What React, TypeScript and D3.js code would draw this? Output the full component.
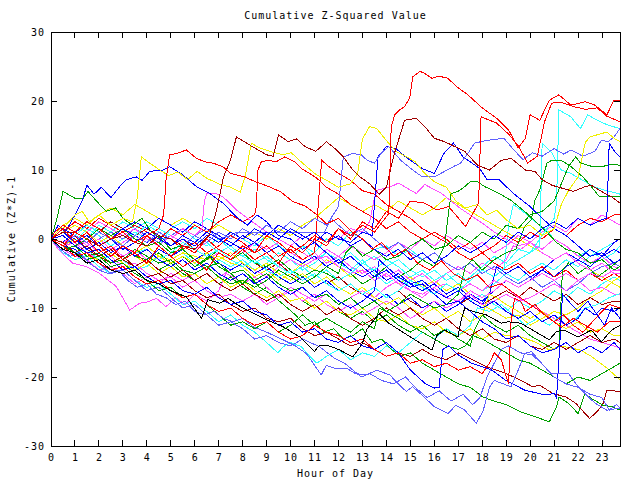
import React from "react";
import * as d3 from "d3";

type P = [number, number];

const title = "Cumulative Z-Squared Value";
const xLabel = "Hour of Day";
const yLabel = "Cumulative (Z*Z)-1";
const xTicks = d3.range(0, 24);
const yTicks = [-30, -20, -10, 0, 10, 20, 30];
const xDomain: [number, number] = [0, 23.75];
const yDomain: [number, number] = [-30, 30];

const palette = {
  red: "#ff0000",
  green: "#00a000",
  blue: "#0000ff",
  magenta: "#ff50ff",
  cyan: "#30ffff",
  darkred: "#a00000",
  yellow: "#f0f000",
  black: "#000000",
  lightblue: "#6060ff",
};

const s01: P[] = [[0,0],[0.5,1.5],[1,-0.5],[1.5,1],[2,-1],[2.5,-2.5],[3,-1],[3.5,-2],[4,0.5],[4.5,-1],[5,-2.5],[5.5,-1],[6,-2],[6.5,0],[7,-1.5],[7.5,-2.5],[8,-1],[8.5,-2],[9,0.5],[9.5,-0.5],[10,-2],[10.5,-1],[11,0.5],[11.5,-0.5],[12,1.5],[12.5,0.5],[13,2],[13.5,1],[14.1,3.7],[14.2,16.3],[14.35,18],[14.55,18.7],[14.76,19.2],[14.97,20.4],[15.1,23.5],[15.4,24.3],[15.6,24],[15.9,23.3],[16.2,23.6],[16.55,23.3],[17,21.9],[17.4,20.9],[18,19],[18.6,17.5],[19.1,15.8],[19.5,13.2],[19.8,14.6],[20,18],[20.4,17.2],[20.8,20.1],[21.2,20.9],[21.7,19.4],[22.3,19.9],[22.7,19.4],[23.2,18],[23.5,20.1],[23.75,20.1]];
const s02: P[] = [[0,0],[0.5,-1],[1,1],[1.5,0],[2,-2],[2.5,-1],[3,-3],[3.5,-2],[4,-3.5],[4.5,-1],[5,-2.5],[5.5,-4],[6,-3],[6.5,-4.5],[7,-2],[7.5,-3],[8,-1.5],[8.5,-3],[9,-2],[9.5,-3.5],[10,-1],[10.5,-2],[11,0],[11.5,-1],[12,1.5],[12.5,0],[13,2.5],[13.5,1.5],[14,4],[14.5,3],[15,5.5],[15.6,5.2],[16.1,4.2],[16.6,4.7],[17.3,1.8],[17.85,5.2],[17.95,17.7],[18.6,16.8],[19.1,15.2],[19.5,13.5],[19.9,11],[20.3,12],[20.6,17],[20.9,19.7],[21.3,19.8],[21.8,19.2],[22.3,18.8],[22.8,19],[23.2,17.8],[23.75,17]];
const s03: P[] = [[0,0],[0.5,1],[1,1],[1.5,0],[2,-1],[2.5,0],[3,0.5],[3.5,-0.5],[4,-1],[4.5,0.5],[5,0],[5.5,-1],[6,-1.5],[6.6,0.5],[6.9,4],[7.2,9],[7.5,11.5],[7.74,14.8],[8.4,13.4],[9,12.2],[9.27,12],[9.5,15.1],[9.9,14.1],[10.25,14.5],[10.6,13.4],[11.05,12.7],[11.5,14.1],[11.85,13.1],[12.2,11.9],[12.6,10],[12.9,9],[13.3,8],[13.7,6.5],[14,7.5],[14.3,12],[14.76,17.2],[15.25,17.5],[15.6,16.3],[16,14.6],[16.43,14.1],[16.85,13.4],[17.27,12.7],[17.8,10.7],[18.3,10],[18.8,11.4],[19.2,11.7],[19.8,10],[20.2,9.8],[20.5,8.6],[20.9,7.8],[21.4,7.3],[21.8,6.9],[22.3,7.6],[22.55,7.8],[22.97,6.9],[23.4,6.1],[23.75,5.2]];
const s04: P[] = [[0,0.5],[0.5,2],[1,1],[1.5,2.5],[2,1.5],[2.5,0],[3,1],[3.5,-0.5],[4,0.5],[4.5,1.5],[4.7,3.5],[4.8,8.5],[4.95,12.2],[5.25,12.4],[5.65,12.9],[6.07,11.7],[6.4,11.2],[6.76,11],[7.17,10.5],[7.5,9.5],[8.08,9],[8.6,8.2],[9.1,7.6],[9.6,6.8],[10.1,5.4],[10.6,4.8],[11.1,3.5],[11.5,2.2],[12,3],[12.5,1.2],[13,0],[13.4,-1.5],[13.8,-0.5],[14.3,-2.5],[14.8,-1.5],[15.3,-3.5],[15.8,-4.5],[16.3,-3.2],[16.8,-5],[17.3,-6],[17.8,-5.2],[18.3,-7],[18.8,-6.5],[19.3,-7.8],[19.8,-9],[20.3,-10.2],[20.8,-11.5],[21.3,-12.8],[21.8,-11.5],[22.3,-12.5],[22.8,-13.5],[23.3,-12],[23.75,-12]];
const s05: P[] = [[0,0],[0.5,1.5],[1,3.5],[1.3,4],[1.6,2.5],[2,3.5],[2.5,2],[3,3],[3.4,2.5],[3.6,6],[3.77,11.9],[4.12,11],[4.54,10],[4.9,9.2],[5.3,9.7],[5.7,8.6],[6.1,9.8],[6.5,8.8],[7,8],[7.5,7.5],[7.9,6.8],[8.1,9],[8.36,13.9],[8.7,13.2],[9.13,12.7],[9.68,12.2],[10.03,12.5],[10.5,11],[11,9.5],[11.5,8.5],[12,7.5],[12.5,8],[12.8,9.5],[13,14.5],[13.3,16.3],[13.6,16],[13.99,14.3],[14.4,12.7],[14.8,12],[15.2,11.2],[15.6,9.5],[16,8.3],[16.5,7.5],[16.9,5.5],[17.3,4.5],[17.8,5],[18.2,3.5],[18.6,4.2],[19,2.8],[19.5,1.5],[20,2],[20.5,0.5],[21,1.5],[21.3,5],[21.6,7],[22,9],[22.3,14],[22.5,14.8],[23.2,15.5],[23.5,14.6],[23.75,14.1]];
const s06: P[] = [[0,0],[0.3,2],[0.6,1],[1,3.5],[1.3,5.5],[1.5,7.8],[1.8,6.5],[2.1,7.5],[2.5,6],[2.87,7.6],[3.15,8.6],[3.56,9],[3.8,8.5],[4.12,9.8],[4.67,10],[4.95,10.5],[5.5,9.3],[6.07,7.6],[6.62,6.6],[7.18,5.2],[7.74,3.2],[8.2,2],[8.6,3.5],[9,2.5],[9.5,0.5],[10,0],[10.5,-1.5],[11,-0.5],[11.5,-2],[12,-3.5],[12.5,-2.5],[13,-4],[13.5,-5.5],[14,-4.5],[14.5,-6],[15,-7],[15.5,-6.5],[16,-8],[16.5,-9.5],[17,-9],[17.5,-10.5],[18,-12],[18.5,-13],[19,-14.5],[19.5,-14],[20,-15.5],[20.5,-16.5],[21,-16],[21.5,-15],[22,-16.5],[22.5,-15.5],[23,-16.5],[23.5,-15],[23.75,-16]];
const s07: P[] = [[0,0],[0.25,3],[0.5,6.9],[1,5.9],[1.34,5.9],[1.54,6.9],[1.9,5.5],[2.3,4],[2.7,4.5],[3,3],[3.4,2],[3.8,3],[4.2,1],[4.6,0],[5,-1.5],[5.4,-1],[5.8,-2.5],[6.2,-3.5],[6.6,-2.5],[7,-4],[7.5,-5],[8,-6.5],[8.3,-5.5],[8.7,-7],[9.2,-8],[9.7,-9.5],[10.2,-11],[10.6,-12.5],[11,-12],[11.4,-13.5],[11.8,-13],[12.2,-14.5],[12.6,-14],[13,-13],[13.4,-15],[13.8,-14.5],[14.2,-16],[14.6,-17],[15,-16.5],[15.5,-18],[16,-19],[16.5,-20],[17,-21],[17.5,-21.5],[18.03,-22.9],[18.5,-23.5],[19,-24],[19.56,-25],[20,-25.5],[20.4,-26],[20.8,-26.5],[21.1,-24.3],[21.2,-22.9],[21.6,-23.8],[22,-25.3],[22.28,-22.4],[22.6,-23.2],[23.04,-24.1],[23.4,-24.3],[23.75,-24.8]];
const s08: P[] = [[0,0],[0.4,-1.5],[0.8,-2.5],[1.2,-2],[1.6,-3.5],[2,-4.5],[2.4,-5],[2.8,-4.5],[3.2,-6],[3.6,-7],[4,-6.5],[4.4,-8],[4.8,-8.5],[5.2,-9.5],[5.6,-9],[6,-10.5],[6.4,-11],[6.8,-10.5],[7.2,-11.5],[7.6,-12],[8,-11.5],[8.43,-12.7],[9,-13.5],[9.68,-14.6],[10.2,-15.5],[10.66,-16.6],[11.28,-19.7],[11.49,-18.3],[11.9,-18.8],[12.33,-18.7],[12.7,-19.5],[13.16,-19.7],[13.6,-19],[14.14,-19.7],[14.5,-21],[14.83,-22.1],[15.1,-21.4],[15.6,-23],[16,-24.3],[16.57,-25.3],[16.9,-24.1],[17.27,-24.8],[17.75,-26.7],[18.03,-25],[18.3,-21.5],[18.5,-20.5],[18.8,-20.9],[19.2,-21.4],[19.5,-19],[19.77,-16.6],[20.05,-16.3],[20.6,-18.5],[20.9,-19.5],[21.6,-19.5],[22,-21.4],[22.55,-23.3],[22.8,-24],[23.2,-24.8],[23.75,-24.5]];
const s09: P[] = [[0,0],[0.5,-1.5],[1,-1],[1.5,-2.5],[2,-3],[2.5,-2],[3,-3.5],[3.5,-4.5],[4,-3.5],[4.5,-5],[5,-4],[5.5,-5.5],[6,-5],[6.5,-6.5],[7,-5.5],[7.5,-7],[8,-6],[8.5,-7.5],[9,-8.5],[9.5,-7.5],[10,-9],[10.5,-8.5],[11,-10],[11.5,-9],[12,-10.5],[12.5,-11],[13,-10],[13.5,-11.5],[14,-12],[14.5,-11],[15,-12.5],[15.5,-13],[16,-12],[16.5,-13.5],[17,-14],[17.5,-13],[18,-14.5],[18.5,-13.5],[19,-14],[19.6,-14.2],[20.2,-14.9],[20.8,-16.1],[21.3,-15.5],[22.1,-16.1],[22.55,-17],[23.2,-18.7],[23.75,-20.4]];
const s10: P[] = [[0,0],[0.5,-1],[1,0.5],[1.5,-1.5],[2,-2.5],[2.5,-1.5],[3,-3],[3.5,-4],[4,-5.5],[4.5,-5],[5,-6.5],[5.5,-6],[6,-7.5],[6.5,-8.5],[7,-8],[7.5,-9.5],[8,-10.5],[8.5,-10],[9,-11.5],[9.5,-12],[10,-11.5],[10.5,-13],[11,-14],[11.5,-13.5],[12,-14.5],[12.5,-15.5],[13,-15],[13.5,-16],[14,-15],[14.5,-16.5],[15,-17],[15.5,-16],[16,-17],[16.5,-17.5],[17,-16.5],[17.6,-17.5],[18.17,-18.5],[19,-19.5],[19.56,-20.4],[20.1,-21.4],[20.4,-21.2],[20.95,-22.4],[21.5,-22.9],[21.9,-23.8],[22.48,-26],[22.8,-25],[23.05,-23.8],[23.2,-21.9],[23.75,-22.1]];
const s11: P[] = [[0,0],[0.5,0.5],[1,-1],[1.5,-2],[2,-1.5],[2.5,-3],[3,-4.5],[3.5,-4],[4,-5.5],[4.5,-6.5],[5,-6],[5.5,-7.5],[6,-8],[6.5,-7],[7,-8.5],[7.5,-9.5],[8,-9],[8.5,-10.5],[9,-11],[9.5,-12.5],[10,-12],[10.5,-13.5],[11,-13],[11.5,-14.5],[12,-15],[12.5,-14],[13,-15.5],[13.5,-16],[14,-15],[14.5,-16.5],[15,-19],[15.6,-20.9],[16,-21.6],[16.2,-21.5],[16.35,-16],[16.6,-15.5],[17,-16.8],[17.55,-18],[18.4,-19],[18.94,-20.4],[19.77,-21.9],[20.6,-22.6],[21,-22.4],[21.1,-23],[21.2,-17.5],[21.35,-8],[21.6,-9],[22,-10.5],[22.4,-9],[22.8,-11],[23.1,-12.5],[23.4,-10],[23.75,-11.5]];
const s12: P[] = [[0,0],[0.5,-1],[1,0.5],[1.5,-1.5],[2,-0.5],[2.5,-2],[3,-1],[3.5,-2.5],[4,-3],[4.5,-2],[5,-3.5],[5.5,-2.5],[6,-4],[6.5,-3],[7,-1.5],[7.5,-3],[8,-2],[8.5,-3.5],[9,-4],[9.5,-3],[10,-4.5],[10.5,-5.5],[11,-4.5],[11.5,-5],[12,-6],[12.5,-5],[13,-6.5],[13.5,-5.5],[14,-4],[14.5,-5.5],[15,-4.5],[15.5,-3],[16,-4],[16.43,-1],[16.57,3.2],[16.7,6.6],[16.99,6.9],[17.27,7.6],[17.5,8.3],[17.8,8.3],[18.1,7.6],[18.4,7.1],[18.7,6.6],[19.2,5.6],[19.77,4],[20.3,2.3],[20.7,1],[21.1,-0.5],[21.5,-1.5],[22,-2],[22.5,-3.5],[23,-3],[23.5,-4.5],[23.75,-4]];
const s13: P[] = [[0,0],[0.5,0.5],[1,-1],[1.5,0],[2,1.5],[2.5,0.5],[3,1.5],[3.5,0],[4,-1],[4.5,-0.5],[5,-2],[5.5,-1.5],[6,-3],[6.5,-4],[7,-3.5],[7.5,-5],[8,-4.5],[8.5,-6],[9,-5],[9.5,-6.5],[10,-7.5],[10.5,-7],[11,-8.5],[11.5,-8],[12,-9.5],[12.5,-8.5],[13,-10],[13.5,-9],[14,-10.5],[14.5,-9.5],[15,-8],[15.5,-9],[16,-10],[16.5,-9.5],[17,-8],[17.3,-4],[17.6,-3],[18,-4.5],[18.5,-3],[19,-2],[19.4,-1.5],[19.77,1.8],[20.05,2.8],[20.2,5.6],[20.4,7.1],[20.7,11],[20.9,11.4],[21.3,11.4],[21.7,10.5],[22.2,9],[22.55,7.6],[22.9,6.1],[23.4,6.1],[23.75,6.1]];
const s14: P[] = [[0,0],[0.5,-1.5],[1,-1],[1.5,-2.5],[2,-2],[2.5,-3.5],[3,-3],[3.5,-1.5],[4,-2.5],[4.5,-3.5],[5,-3],[5.5,-4.5],[6,-5],[6.5,-4],[7,-5.5],[7.5,-6.5],[8,-6],[8.5,-7],[9,-6],[9.5,-4.5],[10,-5.5],[10.5,-6.5],[11,-5.5],[11.5,-4],[12,-5],[12.3,-2],[12.6,-1],[13,-2.5],[13.5,-1.5],[14,-3],[14.5,-2.5],[15,-1],[15.5,0],[16,-1.5],[16.5,-1],[17,0.5],[17.5,-0.5],[18,1],[18.5,0],[19,2],[19.5,1.5],[20,3.5],[20.5,4],[21,5.5],[21.3,8],[21.6,10.5],[21.9,11.9],[22.1,11],[22.6,10.5],[23,10.5],[23.4,10.8],[23.75,10.7]];
const s15: P[] = [[0,0],[0.5,1],[1,-0.5],[1.5,0.5],[2,-1],[2.5,0],[3,-1.5],[3.5,-0.5],[4,1],[4.5,0],[5,-1],[5.5,0.5],[6,-0.5],[6.5,1],[7,0],[7.5,-1],[8,0.5],[8.5,-0.5],[9,1],[9.5,0],[10,1.5],[10.5,0.5],[11,-0.5],[11.5,1],[12,0],[12.5,-0.5],[13,1],[13.4,0.5],[13.5,5],[13.65,11.9],[14,13.4],[14.4,13.1],[14.8,11.9],[15.5,10.2],[16,9.5],[16.4,12.4],[16.8,13.9],[17.2,11.9],[17.9,10.2],[18.2,8.6],[18.7,8.6],[19.3,6.6],[20,4.7],[20.5,3],[21,1.5],[21.5,0.5],[22,-1],[22.5,-2.5],[23,-2],[23.5,-3.5],[23.75,-3]];
const s16: P[] = [[0,0],[0.5,-1.5],[1,-2],[1.5,-3.5],[2,-3],[2.5,-4.5],[3,-5],[3.5,-4.5],[4,-6],[4.5,-6.5],[5,-7.5],[5.65,-8.4],[6.28,-11.5],[6.55,-8.8],[7.04,-9.3],[7.39,-8.6],[8,-10],[8.99,-11.7],[9.68,-12.7],[10.38,-14.2],[11,-16.3],[11.2,-15.4],[11.6,-15.5],[12,-16],[12.6,-17.1],[13,-15.1],[13.2,-13],[13.7,-10.8],[14.1,-12.2],[15,-14.2],[15.9,-16.1],[16.1,-14],[16.43,-13.2],[16.99,-14.2],[17.1,-12],[17.27,-10],[17.6,-10.5],[18.17,-11],[18.8,-12.2],[19.08,-12],[19.6,-12.2],[20.2,-13.4],[20.8,-14.6],[21.1,-13.4],[21.4,-13.2],[22,-14.2],[22.55,-13.2],[22.97,-14.9],[23.4,-13.2],[23.75,-12.5]];
const s17: P[] = [[0,0],[0.5,-1],[1,-2.5],[1.5,-2],[2,-3.5],[2.5,-5],[3,-4.5],[3.5,-6],[4,-7.5],[4.5,-7],[5,-8.5],[5.5,-10],[6,-9.5],[6.5,-11],[7,-12.5],[7.5,-12],[8,-13],[8.5,-14.5],[9,-14],[9.5,-15],[10,-15.5],[10.5,-14.5],[11.2,-15.6],[11.84,-17.3],[12.26,-18],[12.95,-20],[13.3,-19.5],[13.8,-20.5],[14.3,-21],[14.8,-20],[15.2,-21.5],[15.7,-23],[16.2,-22],[16.7,-23.5],[17.2,-22.5],[17.6,-24],[17.9,-23],[18.2,-20],[18.5,-18],[18.8,-16],[19.1,-15.5],[19.6,-16.5],[20.1,-16.8],[20.6,-18.5],[21,-20],[21.5,-21],[22,-21.5],[22.5,-22.5],[23,-23],[23.3,-24.8],[23.6,-24],[23.75,-24.5]];
const s18: P[] = [[0,0],[0.5,-1],[1,0.5],[1.5,-0.5],[2,1],[2.5,0],[3,-1],[3.5,0.5],[4,-0.5],[4.5,1],[5,0],[5.5,-1],[6,0.5],[6.5,-0.5],[7,1],[7.5,0],[8,1.5],[8.5,0.5],[9,2],[9.5,1],[10,2.5],[10.5,1.5],[11,3],[11.5,2],[12,4.7],[12.2,11.9],[12.6,12.4],[12.95,12.2],[13.2,11.4],[13.5,11],[13.8,12.5],[14.1,13.4],[14.6,11.4],[15.1,10],[15.5,9],[16,9],[16.43,9.8],[16.8,10.5],[17.1,11],[17.4,12.4],[17.68,13.9],[18.2,14.3],[18.9,14.6],[19.3,13],[19.7,11.5],[20.1,12.5],[20.5,12],[21,13.1],[21.4,12.3],[21.7,12.9],[22.2,12],[22.7,12.7],[22.97,14.3],[23.25,14.1],[23.5,14.8],[23.75,16]];
const s19: P[] = [[0,0],[0.5,1.5],[1,0.5],[1.5,2],[2,1],[2.5,0],[3,1.5],[3.5,0.5],[4,2],[4.5,1],[5,0],[5.5,-1],[6,0.5],[6.5,-0.5],[7,-2],[7.5,-1],[8,-2.5],[8.5,-3.5],[9,-2.5],[9.5,-4],[10,-5],[10.5,-4],[11,-5.5],[11.5,-4.5],[12,-6],[12.5,-5],[13,-3.5],[13.5,-4.5],[14,-3],[14.5,-4],[15,-5.5],[15.5,-4.5],[16,-6],[16.5,-5],[17,-6.5],[17.5,-5.5],[18,-4],[18.5,-2.5],[19,-3.5],[19.5,-1.5],[20,-2],[20.5,0.5],[21,3],[21.1,5.2],[21.2,18.7],[21.7,17.7],[22.1,16],[22.4,18],[22.8,17.2],[23.25,16.5],[23.75,16]];
const s20: P[] = [[0,0],[0.5,-1],[1,-2],[1.5,-1.5],[2,-3],[2.5,-2.5],[3,-1],[3.5,-2],[4,-1.5],[4.5,-3],[5,-2],[5.5,-0.5],[6,-1.5],[6.5,-2.5],[7,-1.5],[7.5,-3],[8,-4],[8.5,-3],[9,-4.5],[9.5,-5.5],[10,-4.5],[10.5,-6],[11,-5],[11.5,-6.5],[12,-7.5],[12.5,-6.5],[13,-8],[13.5,-7],[14,-8.5],[14.5,-7.5],[15,-6],[15.5,-7],[16,-8],[16.5,-6.5],[17,-7.5],[17.5,-6],[18,-4.5],[18.5,-5.5],[19,-4],[19.5,-3],[20,-2],[20.4,-1],[20.5,13.9],[20.9,12.5],[21.3,10],[21.7,9.5],[22.2,8.5],[22.7,7.5],[23.2,7],[23.75,6.5]];
const s21: P[] = [[0,0],[0.5,-1.5],[1,-1],[1.5,-2.5],[2,-2],[2.5,-3.5],[3,-3],[3.5,-4.5],[4,-4],[4.5,-2.5],[5,-3],[5.5,-2],[6,-3.5],[6.5,-4.5],[7,-3],[7.5,-4],[8,-3],[8.5,-4.5],[9,-3.5],[9.5,-2],[10,-3],[10.5,-1],[11,-2],[11.5,0],[12,-1],[12.5,1],[13,0],[13.5,-1.5],[14,-1],[14.5,-2.5],[15,-1.5],[15.5,-3],[16,-2],[16.5,-3.5],[17,-4.5],[17.5,-3.5],[18,-5],[18.5,-4],[18.9,-4.5],[19.1,2],[19.3,5],[19.7,4],[20.2,2.5],[20.6,1.5],[21,0],[21.5,-1],[22,-2.5],[22.5,-1.5],[23,-3],[23.5,-2],[23.75,-1]];
const s22: P[] = [[0,0],[0.5,-2],[1,-3],[1.5,-2.5],[2,-4],[2.5,-5],[3,-4.5],[3.5,-6],[4,-7],[4.5,-6.5],[5,-8],[5.5,-9.5],[6,-9],[6.5,-10.5],[7,-12],[7.5,-11],[8,-12.5],[8.5,-13.5],[9,-15],[9.47,-16.5],[9.7,-15.6],[10,-15],[10.45,-15.6],[10.8,-17],[11.1,-18],[11.5,-17],[12,-16],[12.5,-17.5],[13,-16.5],[13.5,-17],[14,-15.5],[14.5,-16.5],[15,-15],[15.5,-13.5],[16,-14.5],[16.5,-13],[17,-14],[17.5,-12.5],[17.8,-10],[18.3,-10.5],[18.8,-9.5],[19.3,-11],[19.8,-12.5],[20.3,-11.5],[20.8,-12.5],[21.3,-11],[21.8,-12],[22.3,-10],[22.8,-9.5],[23.3,-8.5],[23.75,-7.9]];
const s23: P[] = [[0,0],[0.5,1],[1,-0.5],[1.5,1.5],[2,0.5],[2.5,-1],[3,0],[3.5,1],[4,0],[4.5,-1],[5,1.5],[5.5,2.5],[6,1.5],[6.5,3],[7,2],[7.5,1],[8,0],[8.5,-1],[9,0.5],[9.5,-1],[10,-2],[10.5,-1],[11,-3],[11.5,-2],[12,-3.5],[12.5,-4.5],[13,-3],[13.5,-5],[14,-6.5],[14.5,-5.5],[15,-7],[15.5,-6],[16,-7.5],[16.5,-8.5],[17,-7.5],[17.5,-9],[18,-8],[18.5,-9.5],[19,-10.5],[19.5,-9],[20,-10],[20.5,-9],[21,-7.5],[21.5,-8.5],[22,-7],[22.5,-8],[23,-6.5],[23.5,-5.5],[23.75,-6]];
const s24: P[] = [[0,0],[0.5,-0.5],[1,1],[1.5,0],[2,2],[2.5,1],[3,2.5],[3.5,1.5],[4,2.5],[4.5,1.5],[5,0.5],[5.5,1.5],[6,0],[6.5,-1],[7,0],[7.5,-1.5],[8,-2.5],[8.5,-1.5],[9,-3],[9.5,-4],[10,-3],[10.5,-4.5],[11,-3.5],[11.5,-2],[12,-3],[12.5,-2],[13,-3.5],[13.5,-2.5],[14,-4],[14.5,-3],[15,-4.5],[15.5,-5.5],[16,-4.5],[16.5,-6],[17,-5],[17.5,-6.5],[18,-7.5],[18.5,-6.5],[19,-5],[19.5,-6],[20,-4.5],[20.5,-3.5],[21,-4.5],[21.5,-3],[22,-4],[22.5,-2.5],[23,-1.5],[23.5,-0.5],[23.75,0]];
const s25: P[] = [[0,0],[0.5,-0.5],[1,0.5],[1.5,-1],[2,0],[2.5,-1.5],[3,-0.5],[3.5,0.5],[4,-0.5],[4.5,1],[5,0],[5.5,1.5],[6,0.5],[6.3,1.5],[6.4,5.5],[6.5,6.6],[6.9,6.6],[7.18,6.1],[7.46,5.2],[7.74,4.2],[8.2,3],[8.6,2],[9,1],[9.5,0],[10,-1],[10.5,-2],[11,-3],[11.5,-2.5],[12,-4],[12.5,-5],[13,-4.5],[13.5,-6],[14,-5],[14.5,-6.5],[15,-7.5],[15.5,-8],[16,-7],[16.5,-8.5],[17,-9],[17.5,-8],[18,-9.5],[18.5,-9],[19,-8],[19.5,-9],[20,-8.5],[20.5,-7.5],[21,-6.5],[21.5,-7.5],[22,-6],[22.5,-5],[23,-5.5],[23.5,-4.5],[23.75,-4.5]];
const s26: P[] = [[0,0],[0.5,1],[1,2],[1.5,1],[2,2.5],[2.5,1.5],[3,0.5],[3.5,1.5],[4,0],[4.5,-1],[5,0.5],[5.5,-0.5],[6,-1.5],[6.5,-0.5],[7,-2],[7.5,-1],[8,0.5],[8.5,-0.5],[9,1],[9.5,0],[10,-1],[10.5,0.5],[11,-0.5],[11.5,1],[12,0],[12.5,1.5],[13,1],[13.3,2.5],[13.5,6],[13.65,7.1],[14.2,7.6],[14.5,8.1],[14.9,7.3],[15.25,6.6],[15.6,7.9],[16.3,6.6],[17.1,4.4],[18,2.3],[18.5,1],[19,0],[19.5,-1],[20,-0.5],[20.5,-2],[21,-3],[21.5,-2],[22,-3.5],[22.5,-4.5],[23,-3.5],[23.5,-5],[23.75,-5]];
const s27: P[] = [[0,0],[0.5,-1],[1,-0.5],[1.5,-2],[2,-3],[2.5,-2.5],[3,-4],[3.5,-3.5],[4,-5],[4.5,-6],[5,-5.5],[5.5,-7],[6,-6],[6.5,-7.5],[7,-8.5],[7.5,-8],[8,-9],[8.5,-8],[9,-9.5],[9.5,-8.5],[10,-7],[10.5,-8],[11,-9],[11.5,-8],[12,-9.5],[12.5,-8.5],[13,-7.5],[13.5,-8.5],[14,-7],[14.5,-6],[15,-7.5],[15.5,-8.5],[16,-7],[16.5,-6.5],[17,-7.5],[17.5,-6.5],[18,-7.5],[18.5,-6],[19,-7],[19.5,-8.5],[20,-9.5],[20.5,-10.5],[21,-11.5],[21.5,-12.5],[22,-13.5],[22.5,-14.5],[23,-15],[23.5,-15.5],[23.75,-15.8]];
const s28: P[] = [[0,0],[0.5,-1.5],[1,-2.5],[1.5,-3],[2,-4.5],[2.5,-4],[3,-5],[3.5,-6.5],[4,-5.5],[4.5,-6.5],[5,-5],[5.5,-6],[6,-5],[6.5,-4],[7,-5.5],[7.5,-4.5],[8,-3.5],[8.5,-4.5],[9,-5.5],[9.5,-4],[10,-3],[10.5,-4],[11,-3],[11.5,-1.5],[12,-2.5],[12.5,-1],[13,-2],[13.5,-3],[14,-2],[14.5,-0.5],[15,-1.5],[15.5,0],[16,-1],[16.5,0.5],[17,-0.5],[17.5,-1.5],[18,-0.5],[18.5,-2],[19,-1],[19.5,0.5],[20,-0.5],[20.5,1],[21,2],[21.5,1],[22,3],[22.5,2],[23,3.5],[23.5,2.5],[23.75,2]];
const s29: P[] = [[0,0],[0.3,-1.5],[0.9,-3.5],[1.48,-4],[2.03,-5],[2.73,-6.9],[3.29,-10.3],[3.7,-9.3],[4.05,-9.1],[4.4,-8.6],[4.8,-9.8],[5.2,-8.5],[5.6,-9.5],[6,-8],[6.5,-9],[7,-7.5],[7.3,-5],[7.6,-5.5],[8,-6.5],[8.5,-5.5],[9,-7],[9.5,-8.5],[10,-7.5],[10.5,-9],[11,-8],[11.5,-9.5],[12,-10.5],[12.5,-9.5],[13,-11],[13.5,-10],[14,-9],[14.5,-10],[15,-11.5],[15.5,-10.5],[16,-9],[16.5,-10],[17,-9],[17.5,-7.5],[18,-8.5],[18.5,-7.5],[19,-6],[19.5,-7],[20,-6],[20.5,-5],[21,-6],[21.5,-5],[22,-6],[22.5,-7.5],[23,-7],[23.5,-8],[23.75,-8]];
const s30: P[] = [[0,0],[0.5,0.5],[1,-1],[1.5,-0.5],[2,-2],[2.5,-1],[3,-2.5],[3.5,-1.5],[4,-3],[4.5,-2],[5,-3.5],[5.5,-2.5],[6,-4],[6.5,-3],[7,-2],[7.5,-3],[8,-2],[8.5,-0.5],[9,-1.5],[9.5,-0.5],[10,-2],[10.5,-3],[11,-2],[11.5,-3.5],[12,-2.5],[12.5,-4],[13,-5],[13.5,-4],[14,-5.5],[14.5,-4.5],[15,-6],[15.5,-5],[16,-6.5],[16.5,-5],[17,-4],[17.5,-5],[18,-3.5],[18.5,-4.5],[19,-3],[19.3,-1],[19.6,-1.5],[20,-0.5],[20.5,-1.5],[21,0],[21.5,-1],[22,-2.5],[22.5,-3.5],[23,-2.5],[23.5,-4],[23.75,-4.5]];
const s31: P[] = [[0,0],[0.5,1],[1,2],[1.5,1],[2,-0.5],[2.5,0.5],[3,-1],[3.5,-2],[4,-1],[4.5,-2.5],[5,-3.5],[5.5,-2.5],[6,-3.5],[6.5,-2],[7,-3],[7.5,-2],[8,-3.5],[8.5,-4.5],[9,-3.5],[9.5,-5],[10,-6],[10.5,-5],[11,-6.5],[11.5,-5.5],[12,-7],[12.5,-8],[13,-7],[13.5,-8.5],[14,-9.5],[14.5,-8.5],[15,-10],[15.5,-11],[16,-10],[16.5,-11.5],[17,-10.5],[17.5,-12],[18,-11],[18.3,-8],[18.6,-8.5],[19,-9.5],[19.5,-10.5],[20,-11.5],[20.5,-10.5],[21,-12],[21.5,-13],[22,-12],[22.5,-13.5],[23,-13],[23.5,-14],[23.75,-14]];
const s32: P[] = [[0,0],[0.5,2],[1,3],[1.5,2],[2,3.5],[2.5,4.5],[3,3.5],[3.5,5],[4,4],[4.5,3],[5,2],[5.5,3],[6,2],[6.5,1],[7,2],[7.5,1],[8,0],[8.5,1],[9,0],[9.5,1.5],[10,0.5],[10.5,2],[11,3],[11.5,4.5],[12,6],[12.5,5],[13,4],[13.5,5],[14,4],[14.5,5.5],[15,4.5],[15.5,3.5],[16,4.5],[16.5,6],[17,5],[17.5,4],[18,3],[18.5,2],[19,1],[19.5,0],[20,-1],[20.5,-2],[21,-3],[21.5,-2],[22,-3.5],[22.5,-4.5],[23,-5.5],[23.5,-6.5],[23.75,-7]];
const s33: P[] = [[0,0],[0.5,-1],[1,0],[1.5,-1.5],[2,-0.5],[2.5,-2],[3,-1],[3.5,-2.5],[4,-3.5],[4.5,-2.5],[5,-3],[5.5,-2],[6,-2.5],[6.5,-3],[7,-2.5],[7.5,-3.5],[8,-4],[8.5,-5.5],[9,-4.5],[9.5,-6],[10,-5],[10.5,-3.5],[11,-4.5],[11.5,-3],[12,-4],[12.5,-5.5],[13,-4.5],[13.5,-6],[14,-5],[14.5,-6.5],[15,-5.5],[15.5,-7],[16,-6],[16.5,-7.5],[17,-6.5],[17.5,-8],[18,-9.5],[18.5,-10.5],[19,-11.5],[19.5,-11],[20,-12.5],[20.5,-11.5],[21,-10.5],[21.5,-11],[22,-10],[22.5,-8.5],[23,-7.5],[23.5,-6],[23.75,-5.5]];
const s34: P[] = [[0,0],[0.5,-1],[1,-2.5],[1.5,-2],[2,-3.5],[2.5,-4.5],[3,-4],[3.5,-5.5],[4,-6.5],[4.5,-6],[5,-7.5],[5.5,-8.5],[6,-8],[6.5,-9.5],[7,-10.5],[7.5,-10],[8,-11.5],[8.5,-12.5],[9,-12],[9.5,-13.5],[10,-14.5],[10.5,-14],[11,-12.5],[11.5,-13.5],[12,-14],[12.5,-15],[13,-14.5],[13.5,-16],[14,-17],[14.5,-16.5],[15,-18],[15.5,-17.5],[16,-18.5],[16.5,-18],[17,-19],[17.5,-18.5],[18,-19.5],[18.3,-18],[18.5,-16.5],[18.8,-17.5],[19,-20],[19.1,-21],[19.2,-12],[19.35,-8.6],[19.6,-9],[19.8,-10.5],[20.2,-9.5],[20.6,-11],[21,-12],[21.4,-11],[21.8,-12.5],[22.2,-13.5],[22.6,-12],[23,-10.5],[23.3,-9.5],[23.75,-10]];
const s35: P[] = [[0,0],[0.5,1],[1,2.5],[1.5,1.5],[2,3],[2.5,2],[3,1],[3.5,2],[4,1],[4.5,0],[5,1.5],[5.5,0.5],[6,2],[6.5,1],[7,2.5],[7.5,3.5],[8,2.5],[8.5,3.5],[8.57,4.7],[8.64,10],[8.78,11.2],[9.06,11.4],[9.4,11.2],[9.75,11.9],[10.17,11.2],[10.45,10.2],[10.8,9.5],[11.1,8.8],[11.5,7.5],[12,6.5],[12.5,5],[13,4],[13.5,3],[14,1.5],[14.5,2.5],[15,1],[15.5,0],[16,1],[16.5,0],[17,-1.5],[17.5,-0.5],[18,-2],[18.5,-1],[19,0.5],[19.5,-0.5],[20,1],[20.5,0],[21,1.5],[21.5,0.5],[22,2],[22.5,3],[23,2.5],[23.5,3.5],[23.75,3.5]];
const s36: P[] = [[0,0],[0.5,-1],[1,0.5],[1.5,-0.5],[2,1],[2.5,0],[3,-1],[3.5,0.5],[4,-0.5],[4.5,1],[5,0],[5.5,-1.5],[6,-0.5],[6.5,-2],[7,-1],[7.5,0.5],[8,-0.5],[8.5,-2],[9,-1],[9.5,-2.5],[10,-1.5],[10.5,-3],[11,-2],[11.2,7],[11.3,11.4],[11.6,10.5],[12,9.5],[12.5,8.5],[13,7],[13.5,6.5],[14,5],[14.5,4],[15,3],[15.5,1.5],[16,0.5],[16.5,-0.5],[17,-2],[17.5,-3],[18,-2],[18.5,-3.5],[19,-4.5],[19.5,-3.5],[20,-5],[20.5,-4],[21,-5.5],[21.5,-4.5],[22,-6],[22.5,-5],[23,-6],[23.5,-5],[23.75,-5.5]];
const s37: P[] = [[0,0],[0.5,1.5],[1,0.5],[1.5,2],[2,1],[2.5,2.5],[3,1.5],[3.5,0.5],[4,1.5],[4.5,0.5],[5,-1],[5.5,0],[6,-1.5],[6.5,-2.5],[7,-1.5],[7.5,-3],[8,-2],[8.5,-3.5],[9,-4.5],[9.5,-3.5],[10,-5],[10.5,-6],[11,-5],[11.5,-6.5],[12,-5.5],[12.5,-7],[13,-8],[13.5,-7],[14,-8.5],[14.5,-7.5],[15,-9],[15.5,-10],[16,-9],[16.5,-10.5],[17,-9.5],[17.5,-8.5],[18,-9.5],[18.5,-8.5],[19,-7.5],[19.5,-8.5],[20,-7],[20.5,-8],[21,-9],[21.5,-8],[22,-9.5],[22.5,-8.5],[23,-9.5],[23.5,-9],[23.75,-9]];
const s38: P[] = [[0,0],[0.5,-0.5],[1,-2],[1.5,-1],[2,-2.5],[2.5,-3.5],[3,-2.5],[3.5,-4],[4,-3],[4.5,-4.5],[5,-5.5],[5.5,-4.5],[6,-6],[6.5,-5],[7,-6.5],[7.5,-7.5],[8,-6.5],[8.5,-8],[9,-9],[9.5,-8],[10,-9.5],[10.5,-10.5],[11,-9.5],[11.5,-11],[12,-10],[12.5,-11.5],[13,-12.5],[13.5,-11.5],[14,-10],[14.5,-11],[15,-10],[15.5,-11.5],[16,-12.5],[16.5,-11.5],[17,-13],[17.5,-14],[18,-13],[18.5,-14.5],[19,-15],[19.5,-14],[20,-15.5],[20.5,-16],[21,-15],[21.5,-16],[22,-15],[22.5,-14],[23,-15],[23.5,-14.5],[23.75,-15]];
const s39: P[] = [[0,0],[0.5,-1],[1,-2],[1.5,-3],[2,-2.5],[2.5,-4],[3,-3.5],[3.5,-5],[4,-6],[4.5,-7.5],[5,-7],[5.5,-8.5],[6,-8],[6.5,-9.5],[7,-11],[7.5,-12.5],[8,-12],[8.5,-13],[9,-12],[9.5,-13.5],[10,-12.5],[10.5,-11],[11,-12.5],[11.5,-11.5],[12,-12.5],[12.5,-13.5],[13,-12],[13.5,-13],[13.7,-10],[14,-10.5],[14.5,-11.5],[15,-12.5],[15.5,-13.5],[16,-14.5],[16.5,-15.5],[17,-16],[17.3,-15.5],[17.6,-14],[18,-14.5],[18.5,-15.5],[19,-16.5],[19.5,-17.5],[20,-18],[20.5,-19],[21,-20],[21.5,-21],[22,-20],[22.5,-20.5],[23,-19.5],[23.5,-18.5],[23.75,-18]];
const s40: P[] = [[0,0],[0.5,-0.5],[1,1],[1.5,2],[2,1],[2.5,0],[3,1.5],[3.5,2.5],[4,1.5],[4.5,3],[5,2],[5.5,1],[6,2.5],[6.5,1.5],[7,0.5],[7.5,-0.5],[8,-1.5],[8.5,-0.5],[9,-2],[9.5,-1],[10,-2.5],[10.5,-3.5],[11,-2.5],[11.5,-4],[12,-3],[12.5,-4.5],[13,-5.5],[13.5,-4.5],[14,-6],[14.5,-5],[15,-6.5],[15.5,-7.5],[16,-6.5],[16.5,-8],[17,-7],[17.5,-8.5],[18,-9.5],[18.3,-8],[18.6,-4],[19,-5],[19.5,-4],[20,-5.5],[20.5,-4.5],[21,-3],[21.5,-2],[22,-3],[22.5,-1.5],[23,-2.5],[23.5,-0.5],[23.75,0]];
const s41: P[] = [[0,0],[0.5,-1],[1,-1.5],[1.5,-3],[2,-2],[2.5,-3.5],[3,-2.5],[3.5,-4],[4,-3],[4.5,-1.5],[5,-2.5],[5.5,-1.5],[6,-3],[6.5,-2],[7,-3.5],[7.5,-4.5],[8,-3.5],[8.5,-5],[9,-4],[9.5,-5.5],[10,-6.5],[10.5,-5.5],[11,-7],[11.5,-6],[12,-7.5],[12.5,-6.5],[13,-8],[13.5,-9],[14,-8],[14.5,-9.5],[15,-8.5],[15.5,-10],[16,-9],[16.5,-10.5],[17,-9.5],[17.5,-8],[18,-9],[18.5,-7.5],[19,-6],[19.5,-7],[20,-6],[20.5,-4.5],[21,-5.5],[21.5,-4],[22,-3],[22.5,-4],[23,-2.5],[23.5,-1.5],[23.75,-2]];
const s42: P[] = [[0,0],[0.5,1],[1,0],[1.5,-1.5],[2,-0.5],[2.5,-2],[3,-1],[3.5,-2.5],[4,-1.5],[4.5,-3],[5,-4],[5.5,-3],[6,-4.5],[6.5,-3.5],[7,-5],[7.5,-6],[8,-5],[8.5,-6.5],[9,-5.5],[9.5,-7],[10,-8],[10.5,-7],[11,-8.5],[11.5,-7.5],[12,-9],[12.5,-10],[13,-9],[13.5,-7.5],[13.7,-3],[14,-4],[14.5,-5.5],[15,-6.5],[15.5,-6],[16,-7.5],[16.5,-8.5],[17,-7.5],[17.5,-9],[18,-10],[18.5,-9],[19,-10.5],[19.5,-11.5],[20,-10.5],[20.5,-12],[21,-11],[21.5,-12.5],[22,-11.5],[22.3,-10],[22.7,-11],[23,-10],[23.5,-10.5],[23.75,-10]];
const s43: P[] = [[0,0],[0.5,1.5],[1,0.5],[1.5,-0.5],[2,1],[2.5,0],[3,1.5],[3.5,0.5],[4,-0.5],[4.5,0.5],[5,-1],[5.5,0],[6,-1],[6.5,0.5],[7,-0.5],[7.5,1],[8,0],[8.5,1.5],[9,0.5],[9.5,2],[10,1],[10.5,0],[11,1],[11.5,-0.5],[12,0.5],[12.5,-1],[13,0],[13.5,-1.5],[14,-2.5],[14.5,-1.5],[15,-3],[15.5,-2],[16,-3.5],[16.5,-2.5],[17,-1],[17.5,-2],[18,-1],[18.5,0.5],[19,-0.5],[19.5,1],[20,0],[20.5,1.5],[21,2.5],[21.5,1.5],[22,3],[22.5,2],[23,2.8],[23.2,3],[23.3,13.9],[23.5,12.8],[23.75,11.9]];
const s44: P[] = [[0,0],[0.5,-0.5],[1,0.5],[1.5,-1],[2,0],[2.5,1],[3,0],[3.5,1.5],[4,0.5],[4.5,-0.5],[5,0.5],[5.5,1.5],[6,0.5],[6.5,1.5],[7,0],[7.5,0.5],[7.7,0.9],[11.4,0.9],[11.7,3],[12,2],[12.5,0.5],[13,1.5],[13.5,0],[14,-1.5],[14.5,-0.5],[15,-2],[15.5,-3],[16,-2],[16.5,-3.5],[17,-4.5],[17.5,-3.5],[18,-5],[18.5,-4],[19,-5.5],[19.5,-6.5],[20,-5.5],[20.5,-7],[21,-6],[21.5,-7.5],[22,-6.5],[22.5,-5],[23,-4],[23.5,-3.5],[23.75,-4]];
const s45: P[] = [[0,0],[0.5,-0.5],[1,-2],[1.5,-1],[2,-2.5],[2.5,-1.5],[3,-3],[3.5,-4],[4,-3],[4.5,-4.5],[5,-3.5],[5.5,-5],[6,-6],[6.5,-5],[7,-6.5],[7.5,-5.5],[8,-7],[8.5,-8],[9,-7],[9.5,-8.5],[10,-7.5],[10.5,-9],[11,-10],[11.5,-9],[12,-10.5],[12.5,-11.5],[13,-10.5],[13.5,-12],[14,-11],[14.5,-12.5],[15,-13.5],[15.5,-12.5],[16,-14],[16.5,-13],[17,-14.5],[17.5,-15.5],[17.7,-13],[18,-11],[18.5,-12.5],[19,-13.5],[19.5,-12.5],[20,-14],[20.5,-15],[21,-16],[21.2,-15.5],[21.35,-4.5],[21.6,-3.5],[22,-5],[22.4,-4],[22.8,-5.5],[23.2,-4.5],[23.75,-3]];

const seriesList: { data: P[]; color: string }[] = [
  { data: s23, color: palette.cyan },
  { data: s24, color: palette.cyan },
  { data: s21, color: palette.cyan },
  { data: s33, color: palette.yellow },
  { data: s32, color: palette.yellow },
  { data: s30, color: palette.magenta },
  { data: s28, color: palette.magenta },
  { data: s37, color: palette.darkred },
  { data: s40, color: palette.blue },
  { data: s41, color: palette.blue },
  { data: s44, color: palette.lightblue },
  { data: s36, color: palette.red },
  { data: s35, color: palette.red },
  { data: s12, color: palette.green },
  { data: s45, color: palette.green },
  { data: s29, color: palette.magenta },
  { data: s25, color: palette.magenta },
  { data: s26, color: palette.magenta },
  { data: s27, color: palette.magenta },
  { data: s31, color: palette.yellow },
  { data: s09, color: palette.yellow },
  { data: s22, color: palette.cyan },
  { data: s20, color: palette.cyan },
  { data: s19, color: palette.cyan },
  { data: s38, color: palette.darkred },
  { data: s10, color: palette.darkred },
  { data: s39, color: palette.green },
  { data: s14, color: palette.green },
  { data: s13, color: palette.green },
  { data: s07, color: palette.green },
  { data: s42, color: palette.blue },
  { data: s43, color: palette.blue },
  { data: s15, color: palette.blue },
  { data: s06, color: palette.blue },
  { data: s11, color: palette.blue },
  { data: s17, color: palette.lightblue },
  { data: s18, color: palette.lightblue },
  { data: s08, color: palette.lightblue },
  { data: s34, color: palette.red },
  { data: s05, color: palette.yellow },
  { data: s16, color: palette.black },
  { data: s03, color: palette.darkred },
  { data: s04, color: palette.red },
  { data: s02, color: palette.red },
  { data: s01, color: palette.red },
];

const W = 640;
const H = 480;
const L = 51;
const R = 620;
const T = 32;
const B = 446;
const FONT = "'DejaVu Sans Mono', monospace";

export default function App() {
  const x = d3.scaleLinear().domain(xDomain).range([L, R]);
  const y = d3.scaleLinear().domain(yDomain).range([B, T]);
  const line = d3
    .line<P>()
    .x((d) => x(d[0]))
    .y((d) => y(d[1]));
  const tickLen = 6;
  const textStyle = { fontFamily: FONT, fontSize: 10, letterSpacing: 1 } as React.CSSProperties;

  return (
    <svg
      width={W}
      height={H}
      style={{ position: "absolute", left: 0, top: 0, background: "#fff" }}
    >
      <rect x={0} y={0} width={W} height={H} fill="#fff" />
      <g shapeRendering="crispEdges">
        {seriesList.map((s, i) => (
          <path key={i} d={line(s.data) || ""} fill="none" stroke={s.color} strokeWidth={1} />
        ))}
      </g>
      <g shapeRendering="crispEdges" stroke="#000" strokeWidth={1}>
        <rect x={L} y={T} width={R - L} height={B - T} fill="none" />
        {xTicks.map((t) => (
          <g key={"xt" + t}>
            <line x1={x(t)} x2={x(t)} y1={B} y2={B - tickLen} />
            <line x1={x(t)} x2={x(t)} y1={T} y2={T + tickLen} />
          </g>
        ))}
        {yTicks.map((t) => (
          <g key={"yt" + t}>
            <line x1={L} x2={L + tickLen} y1={y(t)} y2={y(t)} />
            <line x1={R} x2={R - tickLen} y1={y(t)} y2={y(t)} />
          </g>
        ))}
      </g>
      <g style={textStyle} fill="#000">
        {xTicks.map((t) => (
          <text key={"xl" + t} x={x(t) + 0.5} y={461} textAnchor="middle">
            {t}
          </text>
        ))}
        {yTicks.map((t) => (
          <text key={"yl" + t} x={45} y={y(t) + 4} textAnchor="end">
            {t}
          </text>
        ))}
        <text x={(L + R) / 2} y={19} textAnchor="middle">
          {title}
        </text>
        <text x={(L + R) / 2} y={477} textAnchor="middle">
          {xLabel}
        </text>
        <text
          x={0}
          y={0}
          textAnchor="middle"
          transform={`translate(14.5, ${(T + B) / 2}) rotate(-90)`}
        >
          {yLabel}
        </text>
      </g>
    </svg>
  );
}
